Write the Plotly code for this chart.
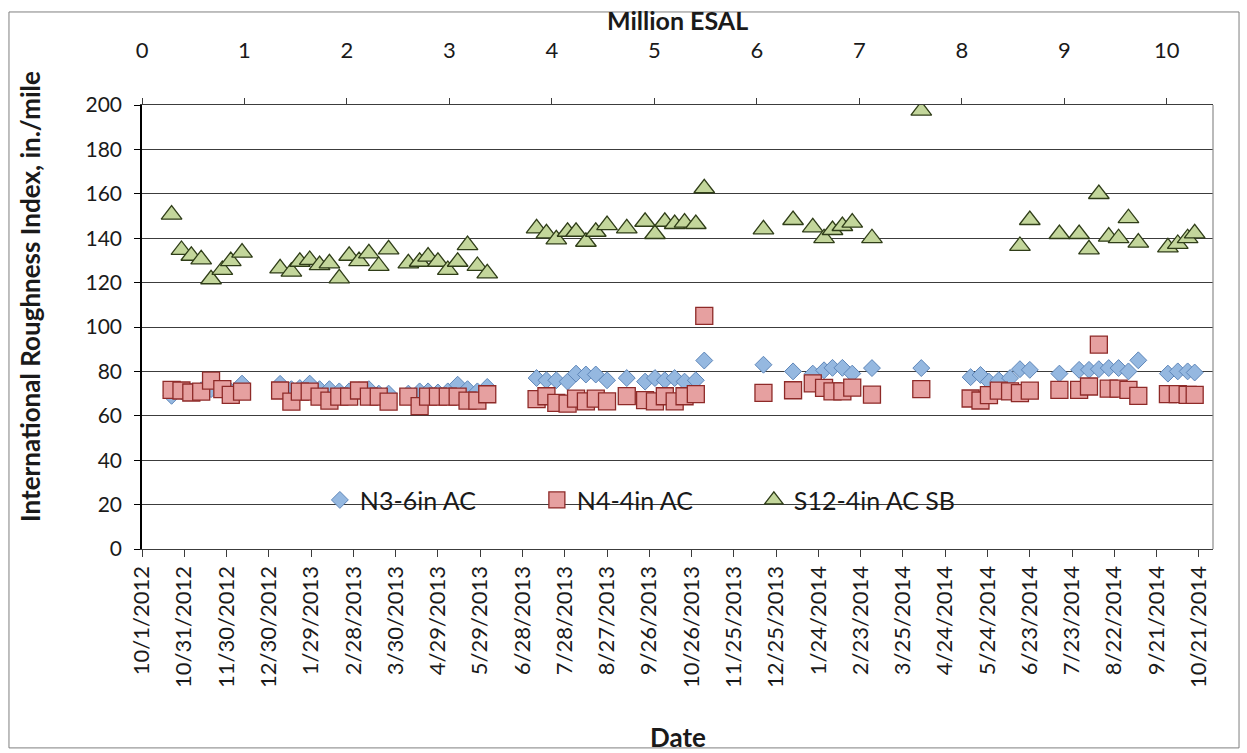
import pandas as pd
import plotly.graph_objects as go

# Survey dates (shared by all three test sections)
dates = [
    "2012-10-22", "2012-10-29", "2012-11-05", "2012-11-12", "2012-11-19", "2012-11-27", "2012-12-03", "2012-12-11",
    "2013-01-07", "2013-01-15", "2013-01-21", "2013-01-28", "2013-02-04", "2013-02-11", "2013-02-18", "2013-02-25",
    "2013-03-04", "2013-03-11", "2013-03-18", "2013-03-25", "2013-04-08", "2013-04-16", "2013-04-22", "2013-04-29",
    "2013-05-06", "2013-05-13", "2013-05-20", "2013-05-27", "2013-06-03",
    "2013-07-08", "2013-07-15", "2013-07-22", "2013-07-30", "2013-08-05", "2013-08-12", "2013-08-19", "2013-08-27",
    "2013-09-10", "2013-09-23", "2013-09-30", "2013-10-07", "2013-10-14", "2013-10-21", "2013-10-29", "2013-11-04",
    "2013-12-16", "2014-01-06", "2014-01-20", "2014-01-28", "2014-02-03", "2014-02-10", "2014-02-17", "2014-03-03",
    "2014-04-07",
    "2014-05-12", "2014-05-19", "2014-05-25", "2014-06-01", "2014-06-09", "2014-06-16", "2014-06-23", "2014-07-14",
    "2014-07-28", "2014-08-04", "2014-08-11", "2014-08-18", "2014-08-25", "2014-09-01", "2014-09-08", "2014-09-29",
    "2014-10-06", "2014-10-13", "2014-10-18",
]

# IRI, in./mile
n3_6in_ac = [
    69.0, 71.0, 71.0, 71.5, 72.0, 72.0, 71.0, 74.5,
    74.4, 72.0, 72.5, 74.5, 72.0, 72.0, 71.0, 71.0, 71.5, 72.0, 70.0, 70.0, 70.0, 71.0, 71.0, 70.5, 71.0, 74.0,
    72.0, 71.0, 73.0,
    77.0, 76.0, 76.0, 75.4, 79.0, 78.6, 78.6, 76.0, 77.0, 75.4, 77.0, 76.0, 77.0, 75.4, 76.0, 84.9,
    83.0, 80.0, 79.0, 80.5, 81.6, 81.6, 79.0, 81.5,
    81.5,
    77.4, 78.4, 75.4, 76.0, 77.0, 81.0, 80.7, 79.0, 80.7, 80.7, 81.0, 81.5, 81.5, 80.0, 85.0, 79.0, 80.0, 80.0, 79.5,
]
n4_4in_ac = [
    71.7, 71.4, 70.5, 70.9, 75.8, 72.0, 69.4, 70.9,
    71.4, 66.4, 70.9, 70.9, 68.6, 66.8, 68.6, 68.6, 71.4, 68.6, 68.6, 66.4, 68.6, 64.4, 68.6, 68.6, 68.6, 68.6,
    66.8, 66.8, 69.7,
    67.5, 68.8, 65.8, 65.5, 67.7, 66.5, 67.7, 66.5, 68.9, 67.1, 66.5, 68.8, 66.5, 68.8, 69.8, 105.0,
    70.3, 71.5, 74.6, 72.6, 71.0, 71.0, 72.7, 69.5,
    72.0,
    67.8, 66.9, 69.3, 71.3, 71.0, 70.2, 71.3, 71.7, 71.7, 73.2, 92.1, 72.2, 72.2, 71.7, 69.0, 69.8, 69.8, 69.4, 69.4,
]
s12_4in_ac_sb = [
    150.6, 134.7, 132.1, 130.5, 121.5, 125.7, 129.7, 133.5,
    126.4, 124.9, 129.4, 130.2, 127.9, 128.7, 121.9, 132.1, 129.7, 133.2, 127.5, 135.0, 128.7, 129.4, 131.7, 129.4,
    125.7, 129.4, 136.9, 127.5, 124.2,
    144.4, 142.2, 139.5, 142.9, 142.9, 138.4, 142.9, 145.9, 144.4, 147.4, 141.9, 147.4, 146.4, 147.0, 146.4, 162.5,
    144.0, 148.2, 144.9, 140.0, 143.7, 145.5, 147.0, 140.0,
    197.5,
    None, None, None, None, None, 136.5, 148.2, 141.9, 141.9, 135.0, 159.9, 140.7, 140.0, 149.0, 138.0, 135.9,
    137.4, 140.0, 142.2,
]

# Bottom (date) axis tick labels, every 30 days
date_ticks = [
    "10/1/2012", "10/31/2012", "11/30/2012", "12/30/2012", "1/29/2013", "2/28/2013", "3/30/2013", "4/29/2013",
    "5/29/2013", "6/28/2013", "7/28/2013", "8/27/2013", "9/26/2013", "10/26/2013", "11/25/2013", "12/25/2013",
    "1/24/2014", "2/23/2014", "3/25/2014", "4/24/2014", "5/24/2014", "6/23/2014", "7/23/2014", "8/22/2014",
    "9/21/2014", "10/21/2014",
]
date_range = ["2012-10-01", "2014-10-31"]

# Top axis: cumulative traffic, million ESAL
esal_range = [0, 10.45]

FONT = "Lato"
GRID = "#3c3c3c"
tick_vals = pd.to_datetime(date_ticks, format="%m/%d/%Y")

fig = go.Figure()
fig.add_trace(go.Scatter(
    x=dates, y=n3_6in_ac, mode="markers", name="N3-6in AC",
    marker=dict(symbol="diamond", size=13, color="#95B8E0", line=dict(color="#5E86B9", width=1)),
))
fig.add_trace(go.Scatter(
    x=dates, y=n4_4in_ac, mode="markers", name="N4-4in AC",
    marker=dict(symbol="square", size=17, color="#E6A0A0", line=dict(color="#8E2A28", width=1.3)),
))
fig.add_trace(go.Scatter(
    x=dates, y=s12_4in_ac_sb, mode="markers", name="S12-4in AC SB",
    marker=dict(symbol="triangle-up", size=18, color="#C3D69B", line=dict(color="#2F3D18", width=1.3)),
))
# carrier trace so the ESAL axis is drawn
fig.add_trace(go.Scatter(
    x=esal_range, y=[-50, -50], xaxis="x2", mode="markers", showlegend=False,
    hoverinfo="skip", marker=dict(opacity=0),
))

fig.update_layout(
    width=1247, height=753, autosize=False,
    margin=dict(l=142, r=34, t=105, b=204),
    paper_bgcolor="white", plot_bgcolor="white",
    font=dict(family=FONT, size=21, color="#1a1a1a"),
    showlegend=True,
    legend=dict(
        orientation="h", x=0.47, xanchor="center", y=0.11, yanchor="middle",
        bgcolor="rgba(0,0,0,0)", font=dict(size=25, family=FONT),
        entrywidth=172, entrywidthmode="pixels", itemsizing="trace",
    ),
    xaxis=dict(
        type="date", range=date_range,
        tickmode="array", tickvals=tick_vals, ticktext=date_ticks, tickangle=-90,
        ticks="outside", ticklen=7, tickcolor=GRID, tickfont=dict(size=22),
        showline=True, linecolor=GRID, linewidth=1.3, showgrid=False, zeroline=False,
    ),
    xaxis2=dict(
        overlaying="x", side="top", anchor="y", range=esal_range,
        tickmode="linear", tick0=0, dtick=1,
        ticks="outside", ticklen=6, tickcolor=GRID, tickfont=dict(size=22),
        ticklabelstandoff=31,
        showline=True, linecolor=GRID, linewidth=1.3, showgrid=False, zeroline=False,
    ),
    yaxis=dict(
        range=[0, 200], tickmode="linear", tick0=0, dtick=20,
        ticks="outside", ticklen=6, tickcolor="black", tickfont=dict(size=21),
        ticklabelstandoff=8,
        showline=True, linecolor="black", linewidth=1.5,
        showgrid=True, gridcolor=GRID, gridwidth=1.2, zeroline=False,
    ),
    annotations=[
        dict(text="<b>Million ESAL</b>", xref="paper", yref="paper", x=0.5, y=1.192,
             showarrow=False, font=dict(size=25), xanchor="center", yanchor="middle"),
        dict(text="<b>Date</b>", xref="paper", yref="paper", x=0.5, y=-0.423,
             showarrow=False, font=dict(size=26), xanchor="center", yanchor="middle"),
        dict(text="<b>International Roughness Index, in./mile</b>", xref="paper", yref="paper",
             x=-0.1046, y=0.57, textangle=-90, showarrow=False, font=dict(size=26),
             xanchor="center", yanchor="middle"),
    ],
    shapes=[
        # white box behind the legend hides the 20 gridline
        dict(type="rect", xref="paper", yref="y", x0=0.0896, x1=0.898, y0=12, y1=30,
             fillcolor="white", line=dict(width=0), layer="between"),
        # right edge of the plot area
        dict(type="line", xref="paper", yref="paper", x0=1, x1=1, y0=0, y1=1,
             line=dict(color="#8c8c8c", width=1.2)),
        # chart frame
        dict(type="rect", xref="paper", yref="paper", x0=-0.1242, x1=1.0243, y0=-0.448, y1=1.2095,
             line=dict(color="#7f7f7f", width=1), fillcolor="rgba(0,0,0,0)", layer="below"),
    ],
)

fig.write_html("out.html")
